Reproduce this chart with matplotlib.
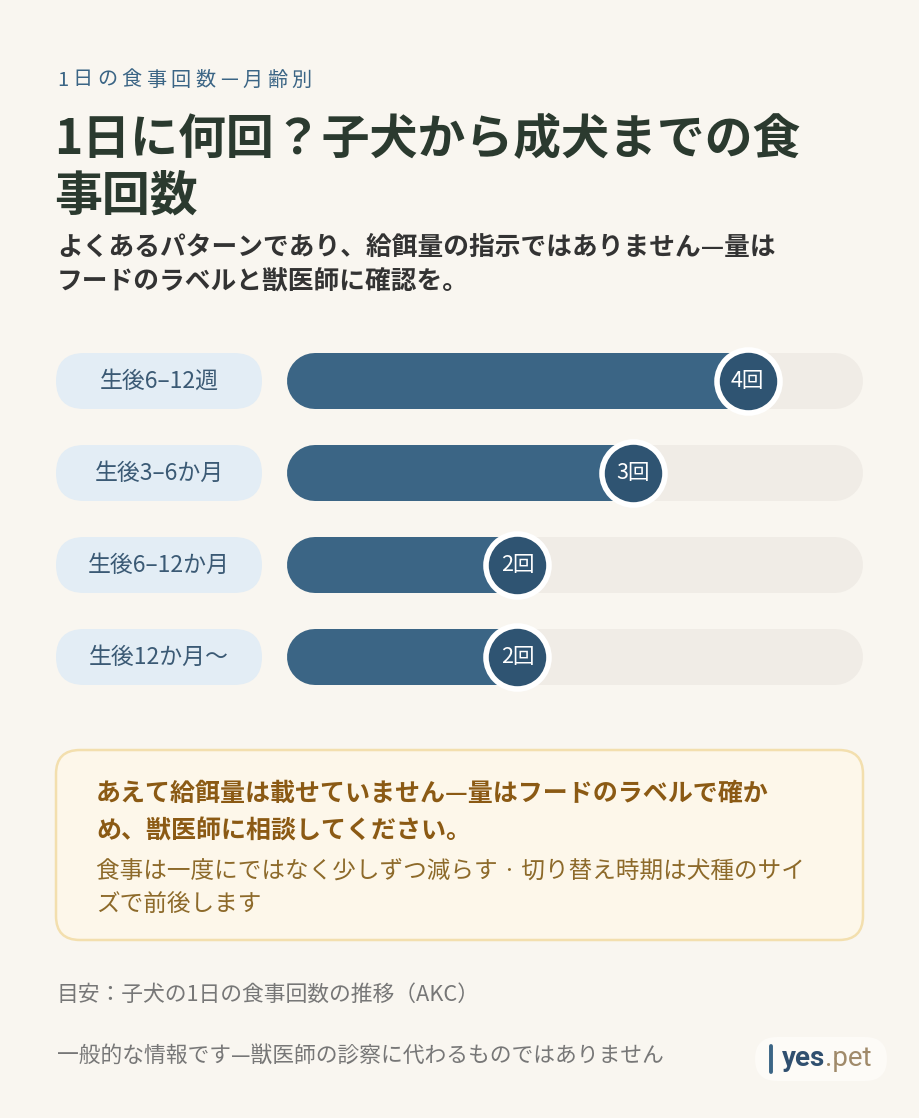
import matplotlib
matplotlib.use("Agg")
import matplotlib.pyplot as plt
from matplotlib.patches import FancyBboxPatch

plt.rcParams['font.family'] = ['Noto Sans CJK JP', 'DejaVu Sans']

# data
stages = ["生後6–12週", "生後3–6か月", "生後6–12か月", "生後12か月～"]
meals = [4, 3, 2, 2]
value_labels = ["4回", "3回", "2回", "2回"]
x_max = 5

kicker = "1日の食事回数—月齢別"
title_lines = ["1日に何回？子犬から成犬までの食", "事回数"]
subtitle_lines = ["よくあるパターンであり、給餌量の指示ではありません—量は",
                  "フードのラベルと獣医師に確認を。"]
note_bold = ["あえて給餌量は載せていません—量はフードのラベルで確か",
             "め、獣医師に相談してください。"]
note_text = ["食事は一度にではなく少しずつ減らす · 切り替え時期は犬種のサイ",
             "ズで前後します"]
source = "目安：子犬の1日の食事回数の推移（AKC）"
disclaimer = "一般的な情報です—獣医師の診察に代わるものではありません"

BG = "#f9f6f0"
BAR = "#3b6585"
DOT = "#2f5472"
TRACK = "#f0ece6"
PILL = "#e3edf5"

W, H = 920, 1118
fig = plt.figure(figsize=(W / 100, H / 100), dpi=100, facecolor=BG)

# page layer in pixel units
bg = fig.add_axes([0, 0, 1, 1])
bg.set_xlim(0, W)
bg.set_ylim(H, 0)
bg.axis("off")

# kicker with letter spacing
prev = bg.text(57, 80, kicker[0], fontsize=14.5, color=BAR, va="center")
for ch in kicker[1:]:
    prev = bg.annotate(ch, xy=(1, 0.5), xycoords=prev, xytext=(3.2, 0),
                       textcoords="offset points", va="center",
                       fontsize=14.5, color=BAR)

for i, line in enumerate(title_lines):
    bg.text(54, 140 + i * 56, line, fontsize=34.5, fontweight="bold",
            color="#2b3a2f", va="center")
for i, line in enumerate(subtitle_lines):
    bg.text(57, 247 + i * 35, line, fontsize=18.5, fontweight="bold",
            color="#333333", va="center")

# bars
row0, row_gap, bar_h = 381, 92, 56
bx0, bx1 = 287, 863
n = len(stages)
top = row0 - row_gap / 2
bottom = row0 + row_gap * (n - 0.5)
ax = fig.add_axes([bx0 / W, 1 - bottom / H, (bx1 - bx0) / W, (bottom - top) / H])
ax.set_xlim(0, x_max)
ax.set_ylim(n - 0.5, -0.5)
ax.axis("off")

lw = bar_h * 0.72
inset = (bar_h / 2) / ((bx1 - bx0) / x_max)
for i, (stage, v, lab) in enumerate(zip(stages, meals, value_labels)):
    ax.plot([inset, x_max - inset], [i, i], color=TRACK, lw=lw,
            solid_capstyle="round", zorder=1)
    ax.plot([inset, v], [i, i], color=BAR, lw=lw,
            solid_capstyle="round", zorder=2)
    ax.scatter([v], [i], s=(63 * 0.72) ** 2, color=DOT, edgecolor="white",
               linewidth=4, zorder=3)
    ax.text(v, i, lab, color="white", fontsize=15.5, ha="center", va="center",
            zorder=4)

    yc = row0 + i * row_gap
    bg.add_patch(FancyBboxPatch((56, yc - 28), 206, 56,
                                boxstyle="round,pad=0,rounding_size=28",
                                fc=PILL, ec="none"))
    bg.text(159, yc, stage, fontsize=16.5, color="#3b5a75",
            ha="center", va="center")

# note box
bg.add_patch(FancyBboxPatch((56, 750), 807, 190,
                            boxstyle="round,pad=0,rounding_size=24",
                            fc="#fdf7ea", ec="#f3dfae", lw=1.8))
for i, line in enumerate(note_bold):
    bg.text(96, 794 + i * 37, line, fontsize=18, fontweight="bold",
            color="#8b5a14", va="center")
for i, line in enumerate(note_text):
    bg.text(96, 872 + i * 32, line, fontsize=17, color="#8d6a2a",
            va="center")

# footer
bg.text(57, 995, source, fontsize=15.7, color="#777777", va="center")
bg.text(57, 1057, disclaimer, fontsize=15.7, color="#777777", va="center")

bg.add_patch(FancyBboxPatch((755, 1037), 132, 44,
                            boxstyle="round,pad=0,rounding_size=22",
                            fc="#fdfbf7", ec="none"))
bg.plot([771, 771], [1046, 1072], color=BAR, lw=2.8, solid_capstyle="round")
t = bg.text(782, 1059, "yes", fontsize=20, fontweight="bold", color="#2f4f6f",
            va="center", family=["Roboto", "DejaVu Sans"])
bg.annotate(".pet", xycoords=t, xy=(1, 0.5), va="center", fontsize=20,
            color="#a08a6a", family=["Roboto", "DejaVu Sans"])

fig.savefig("out.png", dpi=100, facecolor=BG)
